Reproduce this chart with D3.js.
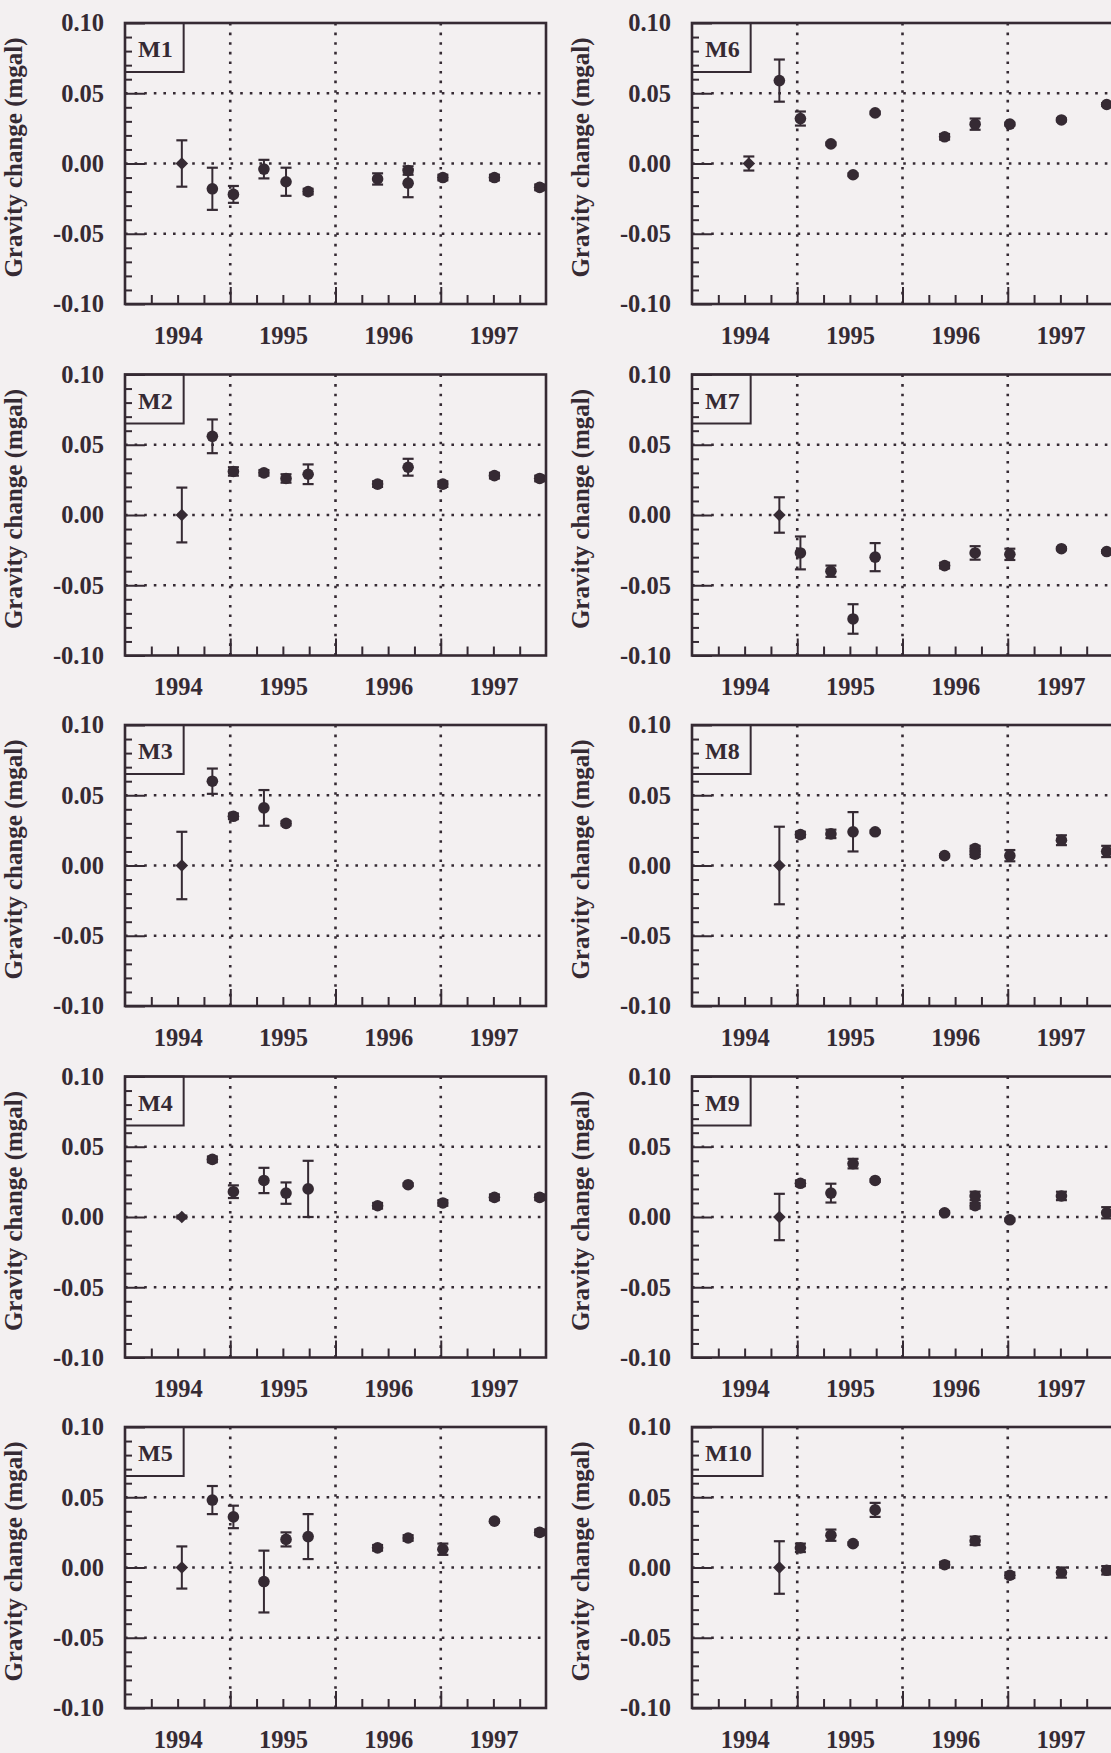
<!DOCTYPE html>
<html>
<head>
<meta charset="utf-8">
<script src="https://cdn.jsdelivr.net/npm/d3@7"></script>
<style>
    body { margin: 0; background: #f3f0f1; }
    svg { display: block; }
    text { font-family: 'Liberation Serif', 'Times New Roman', serif; font-weight: bold; }
</style>
</head>
<body>
<svg id="chart"></svg>
<script>
// survey epochs (decimal years), the 1996.69 epoch appears twice for repeated readings
const surveyDates = [1994.54, 1994.83, 1995.03, 1995.32, 1995.53, 1995.74, 1996.40, 1996.69, 1996.69, 1997.02, 1997.51, 1997.94];

const stations = ['M1', 'M2', 'M3', 'M4', 'M5', 'M6', 'M7', 'M8', 'M9', 'M10'];

const valuesM1 = [0, -0.018, -0.022, -0.004, -0.013, -0.020, -0.011, -0.005, -0.014, -0.010, -0.010, -0.017];
const errorsM1 = [0.0165, 0.015, 0.006, 0.0066, 0.010, 0.002, 0.004, 0.003, 0.010, 0.002, 0.002, 0.002];
const valuesM2 = [0, 0.056, 0.031, 0.030, 0.026, 0.029, 0.022, 0.034, null, 0.022, 0.028, 0.026];
const errorsM2 = [0.0195, 0.012, 0.003, 0.002, 0.003, 0.007, 0.002, 0.006, null, 0.002, 0.002, 0.002];
const valuesM3 = [0, 0.060, 0.035, 0.041, 0.030, null, null, null, null, null, null, null];
const errorsM3 = [0.024, 0.009, 0.002, 0.0127, 0.0015, null, null, null, null, null, null, null];
const valuesM4 = [0, 0.041, 0.018, 0.026, 0.017, 0.020, 0.008, 0.023, null, 0.010, 0.014, 0.014];
const errorsM4 = [0.001, 0.002, 0.0045, 0.009, 0.0076, 0.020, 0.002, 0.001, null, 0.002, 0.002, 0.002];
const valuesM5 = [0, 0.048, 0.036, -0.010, 0.020, 0.022, 0.014, 0.021, null, 0.013, 0.033, 0.025];
const errorsM5 = [0.015, 0.010, 0.008, 0.022, 0.005, 0.016, 0.002, 0.002, null, 0.004, 0.001, 0.002];
const valuesM6 = [0, 0.059, 0.032, 0.014, -0.008, 0.036, 0.019, 0.028, null, 0.028, 0.031, 0.042];
const errorsM6 = [0.005, 0.015, 0.005, 0.001, 0.001, 0.001, 0.002, 0.004, null, 0.001, 0.001, 0.001];
const valuesM7 = [null, 0, -0.027, -0.040, -0.074, -0.030, -0.036, -0.027, null, -0.028, -0.024, -0.026];
const errorsM7 = [null, 0.0126, 0.0117, 0.004, 0.0105, 0.010, 0.002, 0.0048, null, 0.004, 0.001, 0.001];
const valuesM8 = [null, 0, 0.022, 0.0225, 0.024, 0.024, 0.007, 0.012, 0.008, 0.007, 0.018, 0.010];
const errorsM8 = [null, 0.0276, 0.002, 0.003, 0.014, 0.001, 0.001, 0.002, 0.002, 0.004, 0.0035, 0.004];
const valuesM9 = [null, 0, 0.024, 0.017, 0.038, 0.026, 0.003, 0.015, 0.008, -0.002, 0.015, 0.003];
const errorsM9 = [null, 0.0165, 0.002, 0.0067, 0.0034, 0.001, 0.001, 0.003, 0.002, 0.001, 0.003, 0.004];
const valuesM10 = [null, 0, 0.014, 0.023, 0.017, 0.041, 0.002, 0.019, null, -0.0055, -0.0036, -0.002];
const errorsM10 = [null, 0.0187, 0.003, 0.004, 0.001, 0.005, 0.002, 0.003, null, 0.002, 0.0036, 0.003];

const stationValues = [valuesM1, valuesM2, valuesM3, valuesM4, valuesM5, valuesM6, valuesM7, valuesM8, valuesM9, valuesM10];
const stationErrors = [errorsM1, errorsM2, errorsM3, errorsM4, errorsM5, errorsM6, errorsM7, errorsM8, errorsM9, errorsM10];

const yTickValues = [0.10, 0.05, 0.00, -0.05, -0.10];
const yTickLabels = ['0.10', '0.05', '0.00', '-0.05', '-0.10'];
const yearTicks = [1994.5, 1995.5, 1996.5, 1997.5];
const yearLabels = ['1994', '1995', '1996', '1997'];
const yearBoundaries = [1995, 1996, 1997];
const yGridValues = [0.05, 0.00, -0.05];

const ink = '#352a33';
const width = 1111;
const height = 1753;
const panelWidth = 421;
const panelHeight = 281;
const columnLeft = [125, 692];
const rowTop = [23, 374.5, 725, 1076.5, 1427];

const svg = d3.select('#chart')
    .attr('width', width)
    .attr('height', height);

const styleAxis = g => {
    g.select('.domain').remove();
    g.selectAll('line')
        .attr('stroke', ink)
        .attr('stroke-width', 2);
    g.selectAll('text')
        .attr('fill', ink)
        .style('font-size', '24.5px')
        .style('font-family', "'Liberation Serif', serif")
        .style('font-weight', 'bold');
};

const makePanel = (station, values, errors, left, top) => {

    const xScale = d3.scaleLinear()
        .domain([1994, 1998])
        .range([0, panelWidth]);

    const yScale = d3.scaleLinear()
        .domain([-0.10, 0.10])
        .range([panelHeight, 0]);

    const panel = svg.append('g')
        .attr('transform', `translate(${left}, ${top})`);

    // dotted grid
    panel.selectAll('.hgrid')
        .data(yGridValues)
        .enter()
        .append('line')
        .attr('x1', 0)
        .attr('x2', panelWidth)
        .attr('y1', d => yScale(d))
        .attr('y2', d => yScale(d))
        .attr('stroke', ink)
        .attr('stroke-width', 2.6)
        .attr('stroke-dasharray', '2.6 7');

    panel.selectAll('.vgrid')
        .data(yearBoundaries)
        .enter()
        .append('line')
        .attr('x1', d => xScale(d))
        .attr('x2', d => xScale(d))
        .attr('y1', 0)
        .attr('y2', panelHeight)
        .attr('stroke', ink)
        .attr('stroke-width', 2.6)
        .attr('stroke-dasharray', '2.6 7');

    // ticks inside the frame
    const yMinor = d3.range(-9, 10).filter(k => k % 5 !== 0).map(k => k / 100);
    const xMinor = d3.range(1, 16).filter(k => k % 4 !== 0).map(k => 1994 + k / 4);

    panel.append('g')
        .call(d3.axisLeft(yScale).tickValues(yMinor).tickSize(-7).tickFormat(''))
        .call(styleAxis);

    panel.append('g')
        .call(d3.axisLeft(yScale)
            .tickValues(yTickValues)
            .tickSize(-20)
            .tickPadding(21)
            .tickFormat((d, i) => yTickLabels[i]))
        .call(styleAxis);

    panel.append('g')
        .attr('transform', `translate(0, ${panelHeight})`)
        .call(d3.axisBottom(xScale).tickValues(xMinor).tickSize(-9).tickFormat(''))
        .call(styleAxis);

    panel.append('g')
        .attr('transform', `translate(0, ${panelHeight})`)
        .call(d3.axisBottom(xScale).tickValues(yearBoundaries).tickSize(-17).tickFormat(''))
        .call(styleAxis);

    panel.append('g')
        .attr('transform', `translate(0, ${panelHeight})`)
        .call(d3.axisBottom(xScale)
            .tickValues(yearTicks)
            .tickSize(0)
            .tickPadding(22.5)
            .tickFormat((d, i) => yearLabels[i]))
        .call(styleAxis);

    // frame
    panel.append('rect')
        .attr('x', 0)
        .attr('y', 0)
        .attr('width', panelWidth)
        .attr('height', panelHeight)
        .attr('fill', 'none')
        .attr('stroke', ink)
        .attr('stroke-width', 2.6);

    // station label box
    const label = panel.append('text')
        .attr('x', 13)
        .attr('y', 34)
        .attr('fill', ink)
        .style('font-size', '24px')
        .text(station);

    const labelWidth = label.node().getComputedTextLength();

    panel.append('rect')
        .attr('x', 0)
        .attr('y', 0)
        .attr('width', labelWidth + 24)
        .attr('height', 49)
        .attr('fill', 'none')
        .attr('stroke', ink)
        .attr('stroke-width', 2);

    panel.append('text')
        .attr('transform', `translate(-103, ${panelHeight / 2 - 6}) rotate(-90)`)
        .attr('text-anchor', 'middle')
        .attr('fill', ink)
        .style('font-size', '25px')
        .text('Gravity change (mgal)');

    const points = surveyDates
        .map((date, i) => ({ date, value: values[i], error: errors[i] }))
        .filter(d => d.value !== null);

    const bars = panel.selectAll('.errorbar')
        .data(points)
        .enter()
        .append('g')
        .attr('transform', d => `translate(${xScale(d.date)}, 0)`);

    bars.append('line')
        .attr('x1', 0)
        .attr('x2', 0)
        .attr('y1', d => yScale(d.value - d.error))
        .attr('y2', d => yScale(d.value + d.error))
        .attr('stroke', ink)
        .attr('stroke-width', 2);

    [-1, 1].forEach(sign => {
        bars.append('line')
            .attr('x1', -5.5)
            .attr('x2', 5.5)
            .attr('y1', d => yScale(d.value + sign * d.error))
            .attr('y2', d => yScale(d.value + sign * d.error))
            .attr('stroke', ink)
            .attr('stroke-width', 2.2);
    });

    bars.each(function(d, i) {
        const g = d3.select(this);
        if (i === 0) {
            g.append('path')
                .attr('d', d3.symbol(d3.symbolSquare, 80)())
                .attr('transform', `translate(0, ${yScale(d.value)}) rotate(45)`)
                .attr('fill', ink);
        } else {
            g.append('circle')
                .attr('cx', 0)
                .attr('cy', yScale(d.value))
                .attr('r', 5.8)
                .attr('fill', ink);
        }
    });
};

stations.forEach((station, i) => {
    const col = Math.floor(i / 5);
    const row = i % 5;
    makePanel(station, stationValues[i], stationErrors[i], columnLeft[col], rowTop[row]);
});
</script>
</body>
</html>
